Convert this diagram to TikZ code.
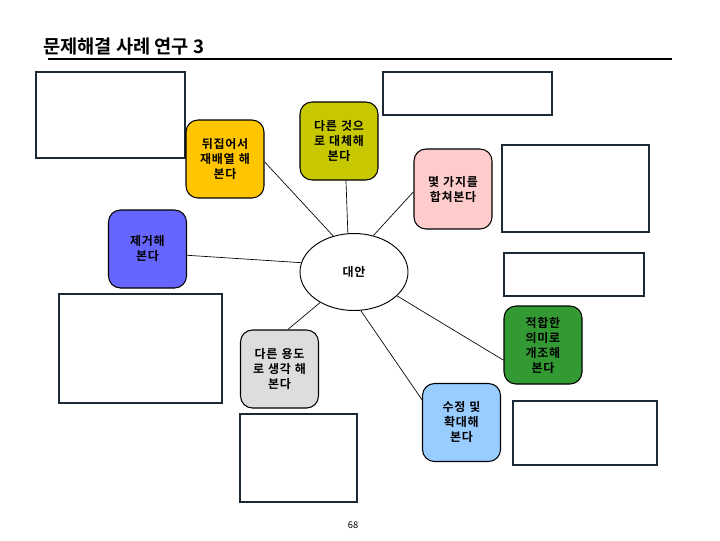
\documentclass[tikz,border=0pt]{standalone}
\usepackage{fontspec}
\newfontfamily\kr{Noto Sans CJK KR}[BoldFont={* Bold}]
\newfontfamily\krs{Noto Sans CJK KR}[BoldFont={* Bold}, LetterSpace=6]
\usetikzlibrary{shapes.geometric}
\definecolor{cyellow}{HTML}{FFC600}
\definecolor{colive}{HTML}{C8C800}
\definecolor{cpink}{HTML}{FFCCCC}
\definecolor{cpurple}{HTML}{6666FF}
\definecolor{cgreen}{HTML}{339933}
\definecolor{cgray}{HTML}{DDDDDD}
\definecolor{cblue}{HTML}{99CCFF}
\definecolor{cframe}{HTML}{1C2A38}
\tikzset{
  idea/.style={draw=black, line width=0.8pt, rounded corners=9pt, minimum width=58.5pt, minimum height=58.5pt, inner sep=1pt, align=center, font=\krs\bfseries\fontsize{9}{11.25}\selectfont, text width=56pt},
  alt/.style={draw=black, line width=0.7pt, ellipse, minimum width=81pt, minimum height=57.75pt, inner sep=0pt, font=\krs\bfseries\fontsize{9}{11}\selectfont},
  note/.style={draw=cframe, line width=1.1pt},
  link/.style={draw=black, line width=0.5pt},
}
\begin{document}
\begin{tikzpicture}[x=0.75pt,y=-0.75pt]
\useasboundingbox (0,0) rectangle (720,540);
\fill[white] (0,0) rectangle (720,540);
% title
\node[anchor=west, inner sep=0pt, font=\kr\bfseries\fontsize{14}{16}\selectfont] (title) at (43,47) {문제해결 사례 연구 3};
\draw[line width=1.1pt, black] (48,59) -- (672,59);
% empty note boxes
\draw[note] (36,72) rectangle (185,158);
\draw[note] (383,72) rectangle (552,115);
\draw[note] (502,145) rectangle (649,232);
\draw[note] (504,253) rectangle (644,296);
\draw[note] (59,294) rectangle (222,403);
\draw[note] (513,401) rectangle (657,465);
\draw[note] (240,414) rectangle (357,502);
% central ellipse
\node[alt] (c) at (354,272) {대안};
% idea boxes
\node[idea, fill=cyellow] (yel) at (225,159) {뒤집어서\\재배열 해\\본다};
\node[idea, fill=colive] (oli) at (339,141) {다른 것으\\로 대체해\\본다};
\node[idea, fill=cpink, minimum height=60pt] (pin) at (453,189) {몇 가지를\\합쳐본다};
\node[idea, fill=cpurple] (pur) at (147.5,249) {제거해\\본다};
\node[idea, fill=cgreen] (grn) at (543,345) {적합한\\의미로\\개조해\\본다};
\node[idea, fill=cgray] (gry) at (279.5,369) {다른 용도\\로 생각 해\\본다};
\node[idea, fill=cblue] (blu) at (461.5,422.5) {수정 및\\확대해\\본다};
% connectors
\draw[link] (yel.-4) -- (c.120);
\draw[link] (oli.-80) -- (c.99);
\draw[link] (pin.184) -- (c.62);
\draw[link] (pur.-9) -- (c.170);
\draw[link] (gry.78) -- (c.222);
\draw[link] (blu.150) -- (c.-80);
\draw[link] (grn.201) -- (c.-29);
% page number
\node[font=\kr\fontsize{7}{8}\selectfont, inner sep=0pt] (pg) at (353,525) {68};
\end{tikzpicture}
\end{document}
